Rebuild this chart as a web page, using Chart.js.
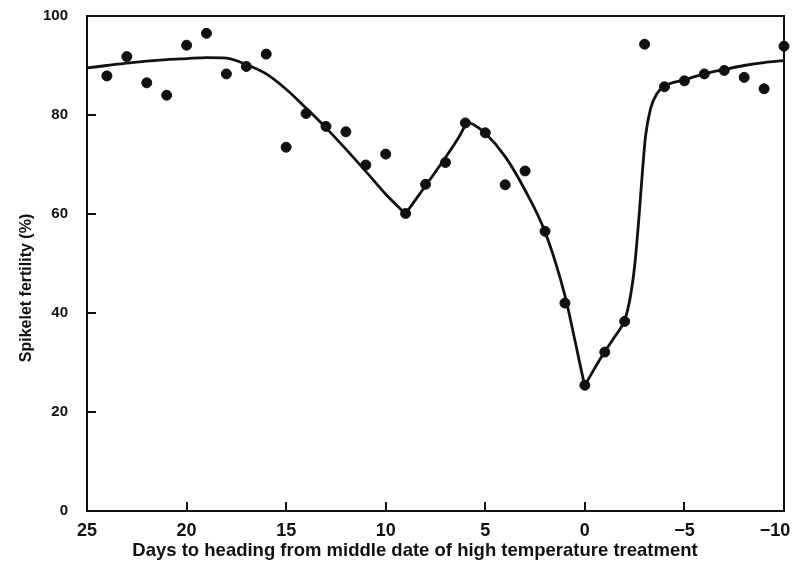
<!DOCTYPE html>
<html>
<head>
<meta charset="utf-8">
<script src="https://cdn.jsdelivr.net/npm/chart.js@4/dist/chart.umd.min.js"></script>
<style>
  html, body { margin: 0; padding: 0; background: #fff; }
  #wrap { width: 793px; height: 573px; }
</style>
</head>
<body>
<div id="wrap"><canvas id="chart" width="793" height="573"></canvas></div>
<script>
// Observed spikelet fertility, one dot per day
var DAYS = [24, 23, 22, 21, 20, 19, 18, 17, 16, 15, 14, 13, 12, 11, 10, 9, 8, 7, 6, 5,
  4, 3, 2, 1, 0, -1, -2, -3, -4, -5, -6, -7, -8, -9, -10];
var FERTILITY = [87.9, 91.8, 86.5, 84.0, 94.1, 96.5, 88.3, 89.8, 92.3, 73.5, 80.3, 77.7, 76.6, 69.9, 72.1, 60.1, 66.0, 70.4, 78.4, 76.4,
  65.9, 68.7, 56.5, 42.0, 25.4, 32.1, 38.3, 94.3, 85.7, 86.9, 88.3, 89.0, 87.6, 85.3, 93.9];

// Hand-drawn fitted curve, knots
var CURVE_DAYS = [25, 24, 23, 22, 21, 20, 19, 18, 17, 16, 15, 14, 13, 12, 11, 10, 9.1, 9, 8.9,
  8, 7, 6.3, 6.0, 5.85, 5.6, 5, 4, 3, 2, 1, 0.5, 0.1, 0, -0.1, -1, -1.5, -2, -2.25, -2.5,
  -2.7, -2.9, -3.05, -3.3, -3.6, -4, -5, -6, -7, -8, -9, -10];
var CURVE_FERTILITY = [89.5, 90.0, 90.5, 90.9, 91.2, 91.4, 91.6, 91.5, 90.2, 88.3, 85.2, 81.4, 77.4, 73.1, 68.6, 64.0, 60.4, 60.0, 60.6,
  65.7, 71.4, 75.7, 77.9, 78.4, 78.1, 76.3, 71.6, 64.8, 56.4, 43.5, 34.5, 27.0, 25.4, 26.1, 32.2, 35.2, 38.6, 42.5, 49.5,
  58.5, 69.0, 75.8, 81.3, 84.2, 85.8, 87.1, 88.3, 89.2, 90.0, 90.6, 91.0];

var X_TICKS = [25, 20, 15, 10, 5, 0, -5, -10];
var Y_TICKS = [0, 20, 40, 60, 80, 100];

var X_TITLE = 'Days to heading from middle date of high temperature treatment';
var Y_TITLE = 'Spikelet fertility (%)';

var INK = '#111';
var TICK_LEN = 9;
var FONT = 'Liberation Sans, Arial, sans-serif';

function pairs(xs, ys) {
  return xs.map(function (x, i) { return { x: x, y: ys[i] }; });
}

// ticks point inward in the original, the plot is boxed,
// and both axis titles sit a little off-centre
var frameTicks = {
  id: 'frameTicks',
  afterDraw: function (chart) {
    var ctx = chart.ctx;
    var a = chart.chartArea;
    var xs = chart.scales.x;
    var ys = chart.scales.y;

    ctx.save();
    ctx.strokeStyle = INK;
    ctx.lineWidth = 2;
    ctx.strokeRect(a.left, a.top, a.right - a.left, a.bottom - a.top);

    X_TICKS.forEach(function (v) {
      var px = Math.round(xs.getPixelForValue(v));
      ctx.beginPath();
      ctx.moveTo(px, a.bottom);
      ctx.lineTo(px, a.bottom - TICK_LEN);
      ctx.stroke();
    });
    Y_TICKS.forEach(function (v) {
      var py = Math.round(ys.getPixelForValue(v));
      ctx.beginPath();
      ctx.moveTo(a.left, py);
      ctx.lineTo(a.left + TICK_LEN, py);
      ctx.stroke();
    });

    ctx.fillStyle = INK;
    ctx.textAlign = 'center';
    ctx.textBaseline = 'middle';
    ctx.font = 'bold 18.5px ' + FONT;
    ctx.fillText(X_TITLE, 415, 551);

    ctx.translate(27, 288);
    ctx.rotate(-Math.PI / 2);
    ctx.font = 'bold 16px ' + FONT;
    ctx.fillText(Y_TITLE, 0, 0);
    ctx.restore();
  }
};

new Chart(document.getElementById('chart'), {
  data: {
    datasets: [
      {
        type: 'line',
        data: pairs(CURVE_DAYS, CURVE_FERTILITY),
        borderColor: INK,
        borderWidth: 2.8,
        pointRadius: 0,
        fill: false,
        cubicInterpolationMode: 'monotone'
      },
      {
        type: 'scatter',
        data: pairs(DAYS, FERTILITY),
        backgroundColor: INK,
        borderColor: INK,
        pointRadius: 5,
        pointHoverRadius: 5,
        clip: false
      }
    ]
  },
  options: {
    responsive: false,
    devicePixelRatio: 1,
    animation: false,
    events: [],
    layout: { padding: { top: 16, right: 9, left: 0, bottom: 0 } },
    plugins: {
      legend: { display: false },
      tooltip: { enabled: false }
    },
    scales: {
      x: {
        type: 'linear',
        reverse: true,
        min: -10,
        max: 25,
        grid: { display: false, drawTicks: false },
        border: { display: false },
        afterBuildTicks: function (scale) {
          scale.ticks = X_TICKS.map(function (v) { return { value: v }; });
        },
        afterFit: function (scale) {
          scale.height = 62;
          scale.paddingLeft = 0;
          scale.paddingRight = 0;
        },
        ticks: {
          color: INK,
          padding: 9,
          maxRotation: 0,
          font: { family: FONT, size: 18, weight: 'bold' },
          callback: function (v) {
            if (v === -10) { return '\u221210\u2003'; } // last label sits left of its tick
            return v < 0 ? '\u2212' + Math.abs(v) : String(v);
          }
        }
      },
      y: {
        type: 'linear',
        min: 0,
        max: 100,
        grid: { display: false, drawTicks: false },
        border: { display: false },
        afterBuildTicks: function (scale) {
          scale.ticks = Y_TICKS.map(function (v) { return { value: v }; });
        },
        afterFit: function (scale) {
          scale.width = 87;
          scale.paddingTop = 0;
          scale.paddingBottom = 0;
        },
        ticks: {
          color: INK,
          padding: 19,
          font: { family: FONT, size: 15, weight: 'bold' }
        }
      }
    }
  },
  plugins: [frameTicks]
});
</script>
</body>
</html>
